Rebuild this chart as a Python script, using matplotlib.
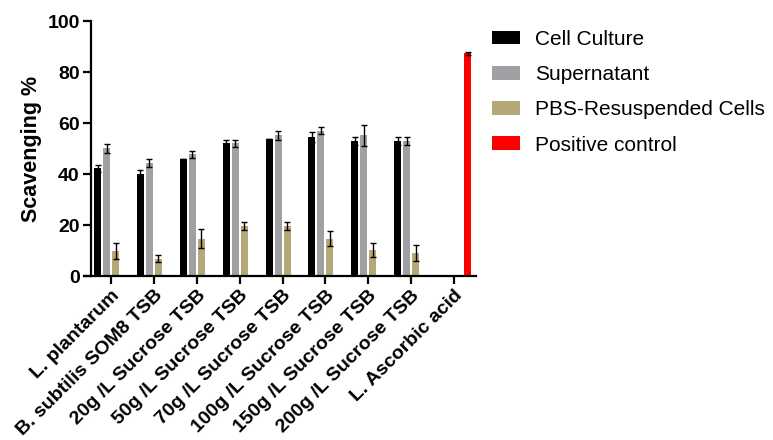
import numpy as np
import matplotlib.pyplot as plt

# Групи зразків і значення (середнє та похибка)
groups = ["L. plantarum", "B. subtilis SOM8 TSB", "20g /L Sucrose TSB",
          "50g /L Sucrose TSB", "70g /L Sucrose TSB", "100g /L Sucrose TSB",
          "150g /L Sucrose TSB", "200g /L Sucrose TSB", "L. Ascorbic acid"]

cell_culture = [42.3, 39.9, 45.7, 52.0, 53.7, 54.4, 52.9, 52.9]
cell_culture_err = [1.4, 1.6, 0.0, 1.5, 0.0, 1.9, 1.5, 1.5]

supernatant = [50.1, 44.3, 47.8, 52.0, 55.2, 57.0, 55.2, 52.9]
supernatant_err = [1.7, 1.5, 1.4, 1.5, 1.7, 1.5, 4.2, 1.5]

pbs_cells = [9.8, 6.7, 14.6, 19.6, 19.6, 14.6, 10.2, 9.0]
pbs_cells_err = [3.0, 1.4, 3.7, 1.4, 1.4, 2.9, 2.6, 3.3]

positive_control = [87.3]
positive_control_err = [0.6]

y_ticks = [0, 20, 40, 60, 80, 100]

plt.rcParams['font.family'] = ['Liberation Sans', 'DejaVu Sans']

fig = plt.figure(figsize=(7.73, 4.40), dpi=100)
ax = fig.add_axes([0.1087, 0.3727, 0.507, 0.5795])

# вісь Y трохи правіше за початок осі X
ax.spines['top'].set_visible(False)
ax.spines['right'].set_visible(False)
ax.spines['left'].set_position(('data', -0.47))
for s in ('left', 'bottom'):
    ax.spines[s].set_linewidth(1.6)

x = np.arange(len(groups))
step = 0.21
width = 0.165
err_kw = dict(ecolor='black', elinewidth=1.0, capsize=2, capthick=1.0)

n = len(cell_culture)
ax.bar(x[:n] - 1.5 * step, cell_culture, width, yerr=cell_culture_err,
       color='black', label='Cell Culture', error_kw=err_kw)
ax.bar(x[:n] - 0.5 * step, supernatant, width, yerr=supernatant_err,
       color='#a0a0a4', label='Supernatant', error_kw=err_kw)
ax.bar(x[:n] + 0.5 * step, pbs_cells, width, yerr=pbs_cells_err,
       color='#b4a877', label='PBS-Resuspended Cells', error_kw=err_kw)
ax.bar(x[n:] + 1.5 * step, positive_control, width, yerr=positive_control_err,
       color='#ff0000', label='Positive control', error_kw=err_kw)

ax.set_xlim(-0.63, 8.51)
ax.set_ylim(0, 100)
ax.set_yticks(y_ticks, labels=[str(v) for v in y_ticks],
              fontsize=14, fontweight='bold')
ax.set_xticks(x, labels=groups, rotation=45, ha='right',
              rotation_mode='anchor', fontsize=14, fontweight='bold')
ax.tick_params(axis='both', width=1.6, length=6, direction='out', pad=2)

ax.set_ylabel('Scavenging %', fontsize=15.5, fontweight='bold', labelpad=4)

ax.legend(loc='upper left', bbox_to_anchor=(0.623, 0.956),
          bbox_transform=fig.transFigure, frameon=False, fontsize=15,
          handlelength=1.35, handleheight=0.65, handletextpad=0.7,
          labelspacing=0.78, borderpad=0)

fig.savefig('out.png', dpi=100)
